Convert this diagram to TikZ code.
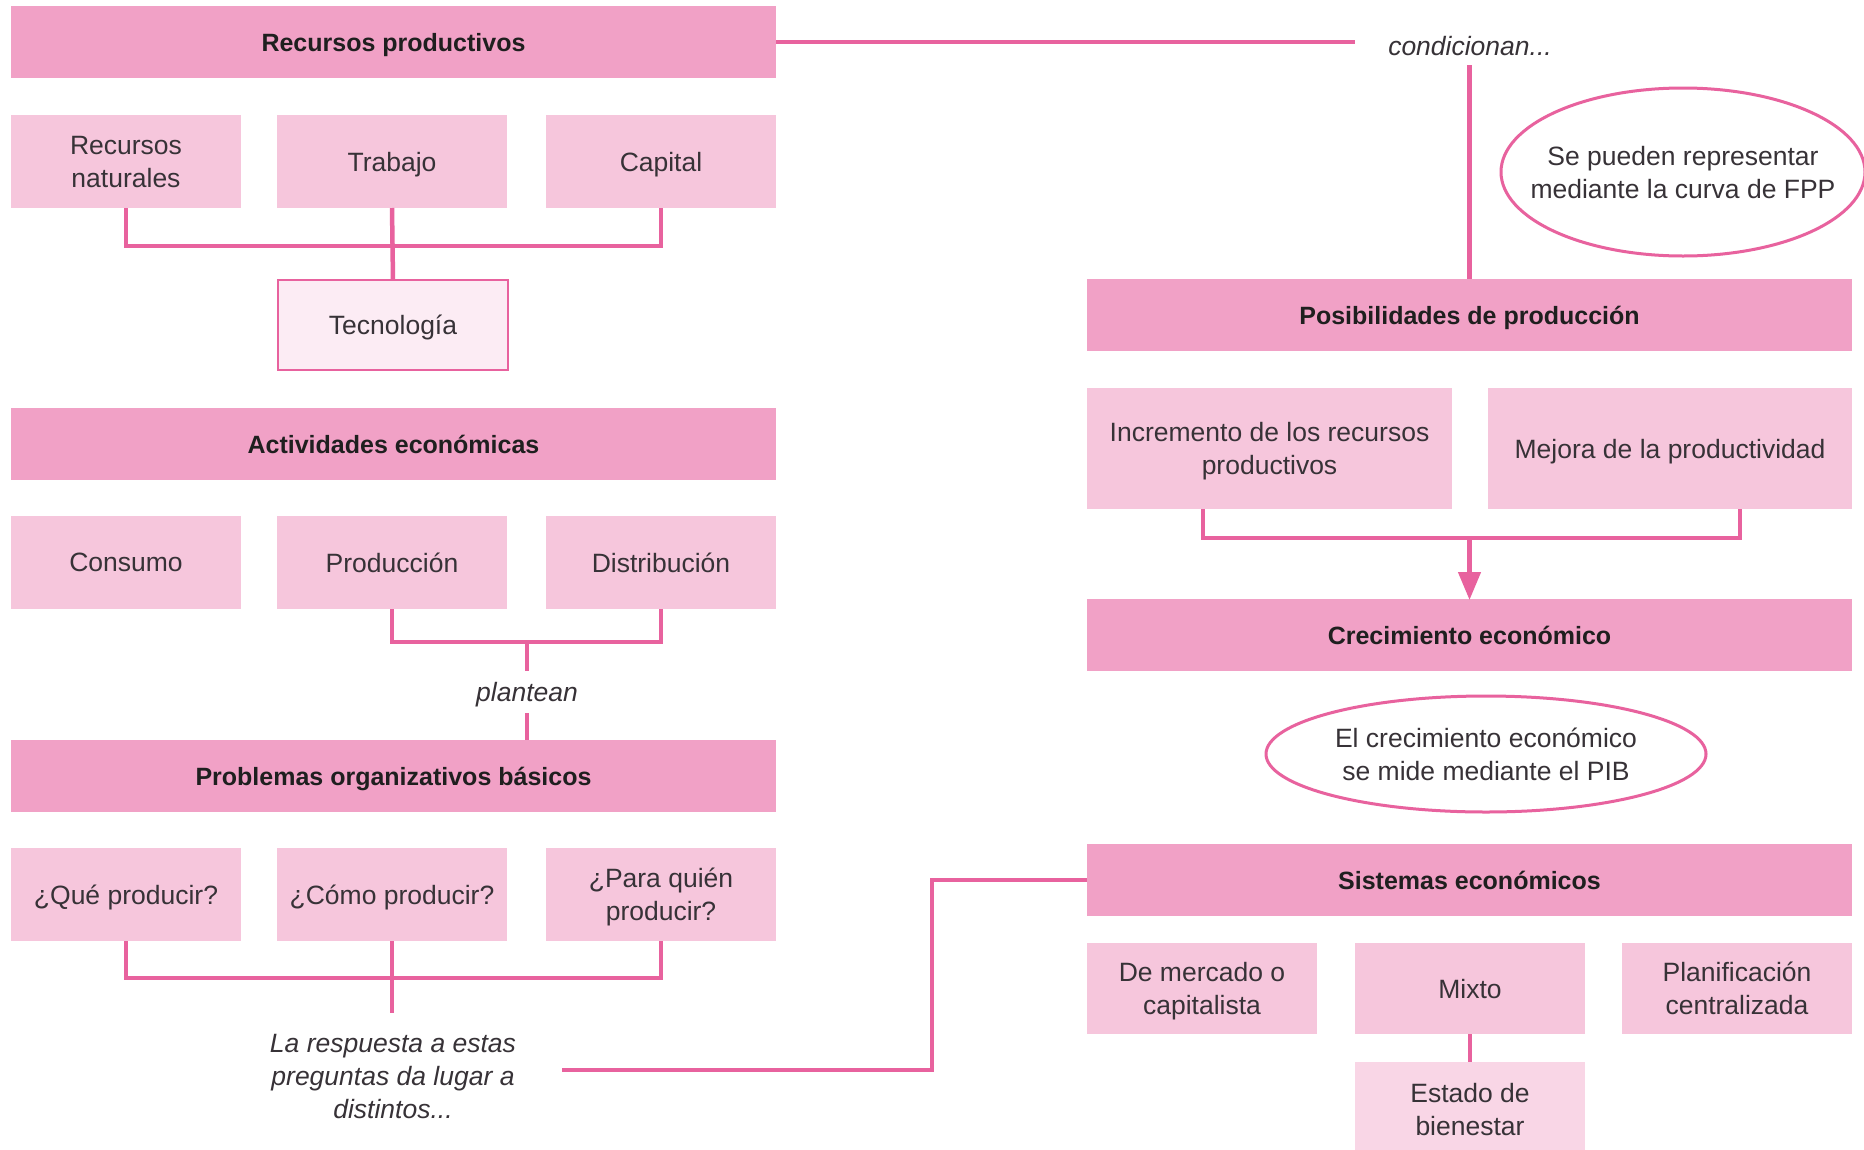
\documentclass[tikz,border=0pt]{standalone}
\usepackage{fontspec}
\setmainfont{Liberation Sans}
\usetikzlibrary{arrows.meta,shapes.geometric}
\definecolor{hdrpink}{RGB}{241,161,198}
\definecolor{subpink}{RGB}{246,198,220}
\definecolor{palepink}{RGB}{252,236,244}
\definecolor{estpink}{RGB}{249,214,230}
\definecolor{linepink}{RGB}{232,98,158}
\definecolor{txtgray}{RGB}{55,50,55}
\begin{document}
\begin{tikzpicture}[x=1pt,y=-1pt,
  hdr/.style={fill=hdrpink, draw=none, inner sep=0pt, outer sep=0pt, anchor=north west,
    minimum width=765pt, minimum height=72pt, text=black!88, text depth=0pt,
    font=\fontsize{25}{31}\selectfont\bfseries},
  subbox/.style={fill=subpink, draw=none, inner sep=0pt, outer sep=0pt, anchor=north west,
    minimum width=230pt, minimum height=93pt, align=center, text=txtgray, text depth=0pt,
    font=\fontsize{26.5}{33}\selectfont},
  conn/.style={draw=linepink, line width=4.5pt},
  oval/.style={ellipse, draw=linepink, line width=3pt, fill=white, inner sep=0pt},
  ovaltext/.style={inner sep=0pt, align=center, text=txtgray, text depth=0pt,
    font=\fontsize{26.5}{33}\selectfont},
  plain/.style={inner sep=0pt, align=center, text=txtgray, text depth=0pt,
    font=\fontsize{26.5}{33}\selectfont\itshape}
]
\useasboundingbox (0,0) rectangle (1864,1149);
\clip (0,0) rectangle (1864,1149);
\fill[white] (0,0) rectangle (1864,1149);

% ---------- left column ----------
\node[hdr] (rp) at (11,6) {Recursos productivos};
\node[subbox] (rn) at (11,115) {Recursos\\naturales};
\node[subbox] (tr) at (277,115) {Trabajo};
\node[subbox] (ca) at (546,115) {Capital};
\node[subbox, fill=palepink, draw=linepink, line width=2.5pt, minimum width=230pt, minimum height=90pt] (tec) at (278,280) {Tecnología};

\node[hdr] (ae) at (11,408) {Actividades económicas};
\node[subbox] (co) at (11,516) {Consumo};
\node[subbox] (pr) at (277,516) {Producción};
\node[subbox] (di) at (546,516) {Distribución};
\node[plain, minimum height=42pt] (plt) at (527,692) {plantean};

\node[hdr] (pob) at (11,740) {Problemas organizativos básicos};
\node[subbox] (q1) at (11,848) {¿Qué producir?};
\node[subbox] (q2) at (277,848) {¿Cómo producir?};
\node[subbox] (q3) at (546,848) {¿Para quién\\producir?};
\node[plain] (resp) at (393,1076) {La respuesta a estas\\preguntas da lugar a\\distintos...};

% ---------- right column ----------
\node[plain] (cond) at (1470,46) {condicionan...};
\node[oval, minimum width=364pt, minimum height=168pt] (fpp) at (1683,172) {};
\node[ovaltext] (fppt) at (fpp.center) {Se pueden representar\\mediante la curva de FPP};
\node[hdr] (pp) at (1087,279) {Posibilidades de producción};
\node[subbox, minimum width=365pt, minimum height=121pt] (inc) at (1087,388) {Incremento de los recursos\\productivos};
\node[subbox, minimum width=364pt, minimum height=121pt] (mej) at (1488,388) {Mejora de la productividad};
\node[hdr] (ce) at (1087,599) {Crecimiento económico};
\node[oval, minimum width=440pt, minimum height=116pt] (pib) at (1486,754) {};
\node[ovaltext] (pibt) at (pib.center) {El crecimiento económico\\se mide mediante el PIB};
\node[hdr] (se) at (1087,844) {Sistemas económicos};
\node[subbox, minimum height=91pt] (dm) at (1087,943) {De mercado o\\capitalista};
\node[subbox, minimum height=91pt] (mx) at (1355,943) {Mixto};
\node[subbox, minimum height=91pt] (pl) at (1622,943) {Planificación\\centralizada};
\node[subbox, fill=estpink, minimum height=95pt] (eb) at (1355,1062) {Estado de\\bienestar};

% ---------- connectors ----------
\draw[conn] (rn.south) -- ++(0,38) -| (ca.south);
\draw[conn] (tr.south) -- (tec.north);
\coordinate (pdj) at (527,642);
\draw[conn] (pr.south) -- ++(0,33) -| (di.south);
\draw[conn] (pdj) -- (plt.north);
\draw[conn] (plt.south) -- (plt.south |- pob.north);
\draw[conn] (q1.south) -- ++(0,37) -| (q3.south);
\draw[conn] (q2.south) -- ++(0,72);
\coordinate (rs) at (562,1070);
\coordinate (rb) at (932,1070);
\draw[conn] (rs) -- (rb) |- (se.west);

\draw[conn] (rp.east) -- ++(579,0) coordinate (ce0);
\coordinate (cv) at (1469.5,65);
\draw[conn] (cv) -- (pp.north);
\draw[conn] ([xshift=-66.5pt]inc.south) -- ++(0,29) -| ([xshift=70pt]mej.south);
\coordinate (mid) at (1469.5,538);
\draw[conn, -{Triangle[width=22pt,length=28pt]}, shorten >=-1pt] (mid) -- (ce.north);
\draw[conn] (mx.south) -- (eb.north);
\end{tikzpicture}
\end{document}
